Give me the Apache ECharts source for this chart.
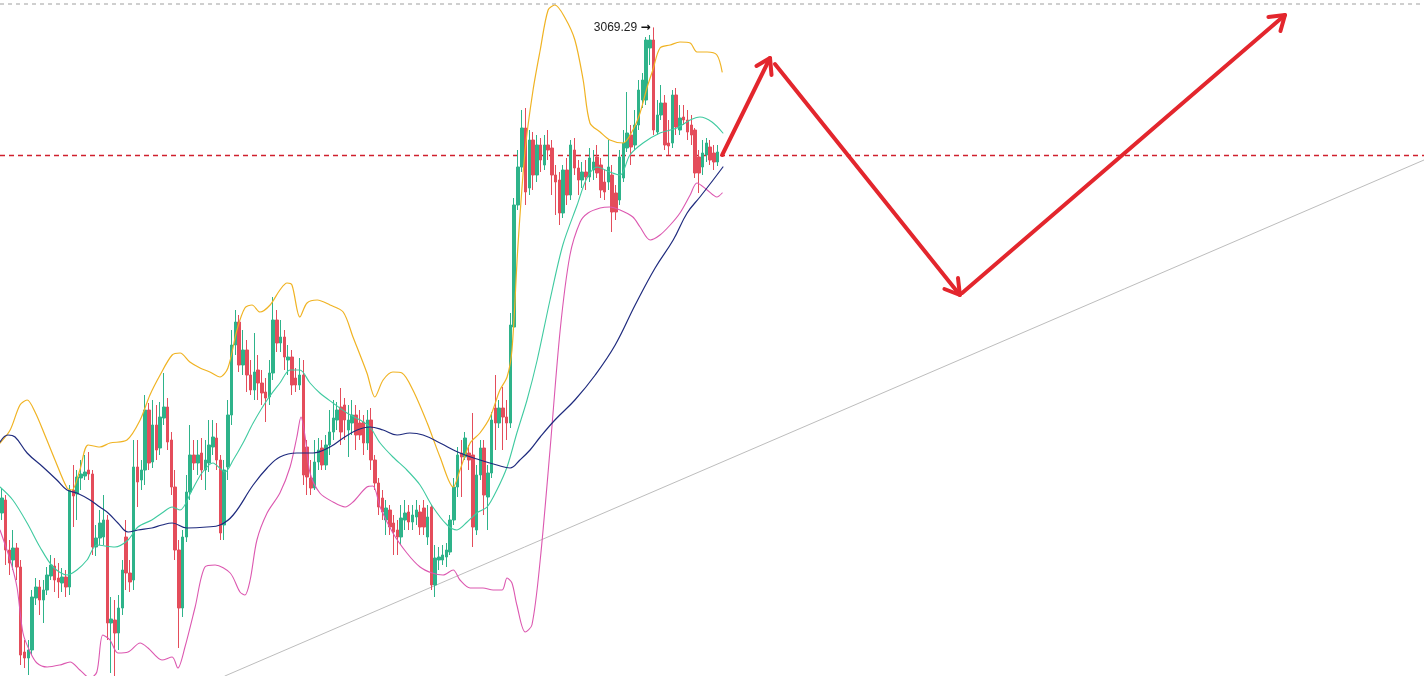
<!DOCTYPE html>
<html><head><meta charset="utf-8">
<script src="https://cdn.jsdelivr.net/npm/echarts/dist/echarts.min.js"></script>
<style>html,body{margin:0;padding:0;background:#fff}#c{width:1424px;height:676px}</style>
</head><body><div id="c"></div>
<script>
// ---- candle data (one per 4h bar), prices ----
const opens = [2826.5,2833,2808,2803,2809,2799.5,2757,2754,2758,2784,
2789.5,2783,2788,2795,2800,2794,2791.5,2794.5,2789.5,2838,
2836,2844,2845,2848,2846,2809.5,2814,2814.5,2823,2771.5,
2773,2766.5,2779,2814.5,2796.5,2793,2849.5,2843,2848,2878,
2852,2870.5,2859,2874,2879.5,2863,2839.5,2808,2779,2814.5,
2837,2855.5,2851.5,2856.5,2848,2851.5,2859.5,2864,2853,2820.5,
2849.5,2875.5,2910.5,2922,2900.5,2908,2895.5,2888,2898,2891.5,
2887,2884.5,2896.5,2923,2911.5,2914.5,2903,2904.5,2894,2890.5,
2895.5,2859.5,2844,2839,2852,2859,2850.5,2860.5,2867,2873,
2879.5,2880.5,2868,2871.5,2875.5,2871.5,2872,2861.5,2873,2853,
2841.5,2834,2823,2828,2821.5,2818,2814.5,2823,2827,2822,
2824.5,2827,2829,2814.5,2829.5,2790.5,2803,2803,2804.5,2807,
2823,2839.5,2856.5,2854.5,2856.5,2855.5,2818,2845.5,2859,2834.5,
2846.5,2879,2871.5,2879,2874.5,2871.5,2919.5,2980.5,2999.5,3019,
2989,3013,2995.5,3010.5,3000.5,3010.5,3009,2995.5,2993,2976.5,
2998,2985.5,3008,2999,2993,2997,2994.5,2998,3004.5,3000.5,
2992,2992,2995.5,2986.5,2983,2994,3009,3015.5,3010.5,3020.5,
3033,3033,3059,3063,3017,3025.5,3031.5,3011.5,3011.5,3035.5,
3018,3024.5,3023,3020.5,3018,3004.5,2999.5,3005.5,3009.5,3006.5,
3002];
const closes = [2834,2808,2801.5,2809,2799.5,2755.5,2754,2758,2784.5,2789.5,
2783,2788,2795.5,2800.5,2793,2792,2794.5,2789.5,2838,2835,
2844.5,2846,2847,2846,2809.5,2814,2821.5,2823,2771.5,2773.5,
2766.5,2779,2798,2796.5,2792,2849.5,2842,2848,2878,2851.5,
2870.5,2858,2874.5,2879.5,2862,2839.5,2808,2779,2814.5,2837,
2855.5,2851.5,2855.5,2848,2853,2860.5,2864.5,2853,2816.5,2848,
2875.5,2910.5,2922,2900.5,2908,2895.5,2888,2897,2891.5,2886.5,
2884,2896.5,2923,2911.5,2914.5,2904.5,2904.5,2890.5,2890.5,2895.5,
2845.5,2844.5,2839,2852,2858,2850.5,2860.5,2867,2874,2878,
2867,2873,2873,2875.5,2865.5,2865.5,2861.5,2873,2853,2841.5,
2829.5,2827,2829,2819.5,2817,2814.5,2824,2826.5,2822,2825.5,
2828,2819.5,2819.5,2824.5,2790.5,2804,2804.5,2805.5,2808,2823,
2839.5,2855.5,2854.5,2864,2853,2819.5,2845.5,2859,2835.5,2846.5,
2873,2871.5,2879,2874.5,2871.5,2920.5,2980.5,2999.5,3019,2987,
3013,2995.5,3010.5,3003,3010.5,3008,2995.5,2992,2976.5,2998,
2985.5,3010.5,2999,2993,2997,2994.5,3004,3002,2996.5,2988,
2987,2999.5,2977,2977,3004.5,3011.5,3016.5,3009.5,3020.5,3038,
3043,3063,3063,3018,3025.5,3031.5,3010.5,3010,3035.5,3019.5,
3024,3023,3017,3015.5,2996.5,2996.5,3006.5,3011.5,3003,3002,
3007];
const lows = [2823,2800.5,2795.5,2798,2793,2750.5,2749,2745.5,2755.5,2780.5,
2775.5,2771.5,2785.5,2793,2787,2784,2787,2784.5,2785.5,2819.5,
2823,2838,2843,2843,2805.5,2805,2810.5,2810.5,2763,2746.5,
2745,2758,2775.5,2788,2787,2788,2829.5,2838,2840.5,2848,
2849,2853,2855.5,2870.5,2858,2835.5,2803,2759,2774.5,2812,
2833,2848,2845.5,2843,2838,2847,2855.5,2848,2813,2813,
2843,2870.5,2905.5,2897,2895.5,2887,2885.5,2883,2883,2880.5,
2872,2880.5,2893,2907,2907,2898,2895.5,2885.5,2887,2888,
2840.5,2835.5,2835.5,2838,2848,2848,2848,2855.5,2863,2868,
2860.5,2863,2854.5,2865.5,2858,2863,2855.5,2858,2848,2838,
2825.5,2823,2815.5,2815.5,2805.5,2805.5,2810.5,2818,2818,2818,
2820.5,2815.5,2815.5,2810.5,2788,2784.5,2798,2800.5,2799.5,2805.5,
2820.5,2834.5,2834.5,2853,2848,2809.5,2815.5,2843,2825.5,2818,
2844,2858,2869,2858,2863,2869,2918,2978,2997,2980.5,
2985.5,2988,2992,2997,2998,3003,2985.5,2975.5,2970.5,2974,
2980.5,2983,2995.5,2985.5,2989,2988,2992,2993,2994,2984,
2983,2988,2967,2973,2980.5,2992,3007,3000.5,3008,3018,
3029,3030.5,3050.5,3015.5,3015.5,3023,3008,3005.5,3009,3015.5,
3015.5,3020.5,3013,3010.5,2994,2986.5,2995.5,3002,3000.5,2998,
3000];
const highs = [2839,2835.5,2813,2818,2811.5,2803,2763,2763,2788,2794,
2793,2793,2799.5,2805.5,2804,2801.5,2799,2798,2840.5,2850.5,
2848,2853,2855.5,2857,2848,2820.5,2828,2835.5,2825.5,2784.5,
2783,2785.5,2803,2823,2803,2863,2863,2853,2885.5,2881.5,
2883,2880.5,2882,2896.5,2884,2867,2848,2813,2818,2845.5,
2870.5,2863,2863,2864,2863,2873,2873,2871.5,2855.5,2853,
2883,2918,2928,2925.5,2918,2913,2903,2916.5,2905.5,2898,
2894,2903,2934.5,2928,2923,2918,2910.5,2908,2899,2904,
2903,2863,2853,2863,2864,2863,2865.5,2878,2883,2882,
2889,2884,2880.5,2883,2880.5,2878,2875.5,2878,2879,2855.5,
2844,2838,2833,2830.5,2825.5,2823,2830.5,2833,2830.5,2830.5,
2833,2830.5,2833,2830.5,2830.5,2810.5,2809.5,2810.5,2811.5,2825.5,
2844,2859.5,2863,2867,2860.5,2876.5,2850.5,2863,2863,2850.5,
2877,2895.5,2883,2889.5,2883,2926.5,2984,3008,3028,3029,
3018,3017,3015.5,3014,3015.5,3018,3013,3000.5,2997,3000.5,
3004,3013,3014,3003,3002,3003,3009,3008,3010.5,3004,
2998,3013,3000.5,2990.5,3008,3018,3037,3020.5,3028,3043,
3046.5,3064.5,3065.5,3069.29,3033,3040.5,3035.5,3023,3038,3039,
3030.5,3030.5,3028,3025.5,3019,3008,3013,3014,3013,3010.5,
3010.5];

// ---- indicator lines: [bar index, price] ----
const bbUpper = [[-0.5,2861.5],[2.2,2868],[4.8,2880.5],[6.7,2883],[8.8,2877],[11.4,2865.5],[14.1,2853],[17.3,2839],[18.6,2838],[20.7,2848],[22.9,2860.5],[26.0,2859.5],[28.7,2861.5],[33.2,2863],[36.7,2873],[39.3,2885.5],[42.0,2895.5],[45.2,2905.5],[47.3,2906.5],[49.9,2902],[52.6,2899],[55.2,2897],[57.9,2894.5],[60.0,2899],[62.4,2918],[64.5,2929],[66.4,2930.5],[68.5,2927],[71.2,2930.5],[73.8,2938],[75.7,2941.5],[77.0,2940.5],[79.1,2924.5],[81.0,2931.5],[83.7,2933],[87.1,2930.5],[90.6,2927],[93.2,2914.5],[96.9,2896.5],[99.0,2884.5],[101.2,2893],[103.8,2897],[106.2,2896.5],[109.1,2888],[112.9,2871.5],[116.3,2854.5],[119.8,2839.5],[121.6,2848],[124.3,2861.5],[126.9,2866.5],[129.6,2874.5],[132.2,2888],[134.1,2894.5],[135.4,2908],[137.0,2960.5],[138.9,3008],[141.0,3038],[142.9,3058],[145.0,3078],[146.8,3080.5],[149.5,3074],[152.1,3063],[154.3,3043],[156.1,3021.5],[158.8,3017],[161.4,3013],[164.9,3011.5],[167.5,3018],[169.4,3026.5],[171.3,3039.5],[172.8,3048],[174.7,3059],[177.4,3060.5],[180.0,3062],[182.7,3061.5],[184.5,3057],[187.2,3057],[189.8,3055.5],[191.2,3047]];
const bbMiddle = [[-0.5,2839.5],[2.9,2833],[6.7,2821.5],[10.1,2809.5],[13.6,2799.5],[17.3,2795.5],[19.9,2798],[22.6,2803],[25.2,2810.5],[30.0,2809.5],[33.5,2813],[36.1,2819.5],[39.8,2823],[42.5,2826.5],[45.2,2829.5],[47.3,2828],[50.5,2838],[53.1,2846.5],[56.0,2851.5],[59.2,2847],[61.4,2853],[64.0,2861.5],[66.7,2871.5],[70.4,2883],[73.8,2891.5],[76.5,2898],[79.1,2898],[81.8,2891.5],[84.4,2886.5],[87.9,2881.5],[91.6,2876.5],[95.1,2873],[97.7,2869.5],[100.4,2861.5],[103.8,2854.5],[107.5,2848],[111.0,2840.5],[114.4,2829.5],[118.2,2820.5],[120.8,2818],[123.5,2822],[126.1,2826.5],[128.8,2829.5],[131.4,2838],[134.1,2849.5],[136.7,2866.5],[139.4,2883],[142.1,2903],[145.5,2933],[148.9,2960.5],[152.7,2980.5],[155.3,2994],[158.0,2999.5],[161.4,2997],[164.1,2995.5],[166.7,3005.5],[170.2,3011.5],[174.7,3016.5],[179.2,3019],[182.7,3023],[185.3,3024.5],[188.5,3022],[191.4,3016.5]];
const bbLower = [[-0.5,2818],[2.2,2803],[4.0,2789.5],[5.6,2766.5],[7.5,2757],[9.3,2751.5],[12.0,2749.5],[15.4,2750.5],[18.1,2752],[20.7,2748],[23.4,2744],[25.2,2747],[26.8,2765.5],[28.7,2763],[30.8,2756.5],[33.5,2757],[36.7,2761.5],[38.8,2759],[42.5,2753],[45.2,2754.5],[46.7,2749],[48.6,2759.5],[51.3,2779.5],[53.9,2799.5],[56.6,2800.5],[60.6,2796.5],[63.2,2787],[64.5,2785.5],[65.9,2793],[67.7,2813],[70.4,2826.5],[73.8,2836.5],[76.5,2849.5],[78.3,2864.5],[79.4,2874.5],[80.5,2864.5],[81.8,2846.5],[84.4,2836.5],[87.9,2832],[91.1,2829.5],[93.2,2832],[96.9,2839.5],[98.5,2840],[100.4,2829.5],[103.8,2816.5],[107.5,2806.5],[111.0,2799.5],[114.2,2796.5],[117.1,2795.5],[119.8,2798],[121.6,2793],[124.3,2789],[127.7,2789],[130.4,2788],[132.8,2788],[134.1,2794],[135.4,2791.5],[136.7,2780.5],[138.9,2767],[140.7,2770.5],[142.9,2803],[145.5,2858],[148.2,2918],[150.8,2955.5],[153.5,2972],[155.6,2976.5],[158.8,2979],[161.4,2979.5],[164.1,2978],[167.5,2974.5],[169.4,2969.5],[172.1,2963],[174.7,2965.5],[177.4,2970.5],[180.0,2976.5],[182.7,2985.5],[184.5,2991.5],[187.2,2988],[189.8,2984.5],[191.2,2986.5]];
const maSlow = [[-0.5,2862],[1.6,2865.5],[3.5,2864.5],[6.7,2856.5],[10.9,2849.5],[14.6,2843],[17.3,2838],[19.9,2836.5],[23.4,2833],[26.0,2829.5],[28.2,2826.5],[30.8,2821.5],[33.5,2817],[36.1,2818],[39.8,2819],[42.5,2820.5],[45.2,2821.5],[49.1,2819],[54.4,2819.5],[57.9,2820.5],[61.4,2825.5],[66.7,2840.5],[70.4,2849],[73.8,2854.5],[78.3,2856.5],[82.6,2856.5],[87.1,2859.5],[90.6,2864],[94.3,2868],[97.7,2869.5],[101.2,2868],[104.9,2865.5],[108.3,2866.5],[111.8,2865.5],[116.3,2861.5],[121.6,2856.5],[126.9,2853],[131.4,2850.5],[134.9,2849],[137.5,2853],[140.2,2858],[142.9,2864.5],[146.8,2873],[152.1,2883],[157.5,2895.5],[162.8,2910.5],[168.1,2930.5],[173.4,2949],[178.2,2963],[181.9,2976.5],[185.3,2984.5],[188.8,2993],[191.4,2999.5]];

// ---- drawings ----
const trendLine = [[59.2,2745],[377.5,3003]];
const arrow1 = [[191.2,3005.5],[203.9,3054]];
const arrow1Head = [[200.3,3050],[203.9,3054],[204.3,3045.5]];
const arrow2 = [[205.2,3051],[254.3,2935.5]];
const arrow2Head = [[253.8,2944],[254.3,2935.5],[250.2,2938.5]];
const arrow3 = [[254.9,2936.5],[340.6,3075.5]];
const arrow3Head = [[336.2,3074.5],[340.6,3075.5],[339.4,3067.5]];
const topDashed = 3081;
const priceLine = 3005.25;
const peakIndex = 173, peakValue = 3069.29;

const SLOTS = 378;
const slotLabels = Array.from({length: SLOTS}, (_, i) => String(i));
const candles = opens.map((o, i) => [o, closes[i], lows[i], highs[i]]);
const G = '#2eb38a', R = '#e44d5b';
const ARROW = '#e3262d';

function line(data, color, width, z, smooth) {
  return {type: 'line', xAxisIndex: 1, yAxisIndex: 0, data: data, symbol: 'none', smooth: smooth,
    silent: true, z: z, color: color, lineStyle: {color: color, width: width, cap: 'round', join: 'round'}};
}
function hDashed(value, color, width, dash) {
  const s = line([[-0.5, value], [SLOTS - 0.5, value]], color, width, 1, false);
  s.lineStyle.type = dash;
  s.lineStyle.cap = 'butt';
  return s;
}

const chart = echarts.init(document.getElementById('c'));
chart.setOption({
  animation: false,
  backgroundColor: '#ffffff',
  grid: {left: 0, right: 0, top: 0, bottom: 0},
  xAxis: [
    {type: 'category', data: slotLabels, show: false, boundaryGap: true},
    {type: 'value', min: -0.5, max: SLOTS - 0.5, show: false}
  ],
  yAxis: {type: 'value', min: 2745, max: 3083, show: false, scale: true},
  series: [
    line(trendLine, '#bdbdbd', 1, 1, false),
    hDashed(topDashed, '#a0a0a0', 1, [4, 4]),
    hDashed(priceLine, '#d0202e', 1.3, [5, 4]),
    {
      type: 'candlestick', data: candles, barWidth: 3, z: 2, silent: true,
      itemStyle: {color: G, color0: R, borderColor: G, borderColor0: R, borderWidth: 1},
      markPoint: {
        symbol: 'circle', symbolSize: 0, silent: true,
        data: [{coord: [String(peakIndex), peakValue], value: peakValue,
          label: {show: true, position: 'left', distance: 3, formatter: '3069.29 {a|\u2192}',
                  color: '#222', fontSize: 12, fontFamily: 'Liberation Sans, Arial, sans-serif',
                  rich: {a: {fontFamily: 'DejaVu Sans', fontSize: 12, color: '#111', fontWeight: 'bold'}}}}]
      }
    },
    line(bbUpper, '#f0b323', 1.2, 3, 0.3),
    line(bbMiddle, '#3fcaa0', 1.1, 3, 0.3),
    line(bbLower, '#dc58b0', 1.1, 3, 0.3),
    line(maSlow, '#1f2b7e', 1.2, 3, 0.4),
    line(arrow1, ARROW, 4, 6, false),
    line(arrow1Head, ARROW, 4, 6, false),
    line(arrow2, ARROW, 4, 6, false),
    line(arrow2Head, ARROW, 4, 6, false),
    line(arrow3, ARROW, 4, 6, false),
    line(arrow3Head, ARROW, 4, 6, false)
  ]
});
</script></body></html>
